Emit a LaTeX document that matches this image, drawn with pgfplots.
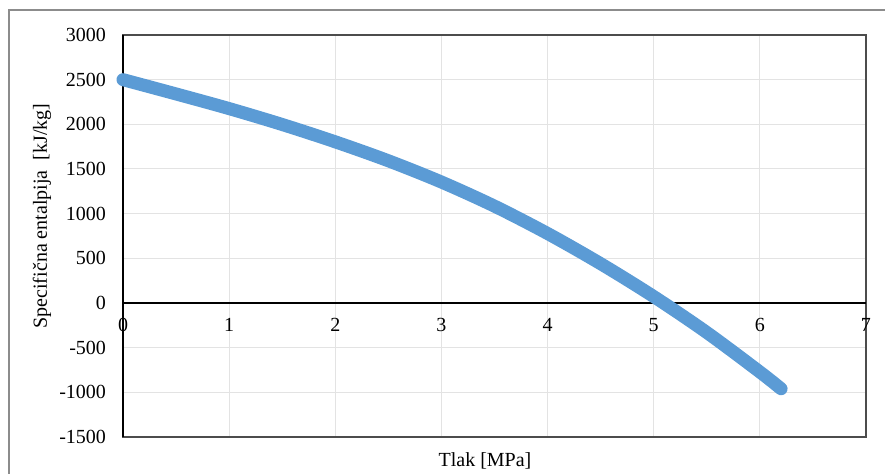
\documentclass[border=0pt]{standalone}
\usepackage{fontspec}
\setmainfont{Liberation Serif}
\usepackage{pgfplots}
\pgfplotsset{compat=1.18}
\definecolor{exblue}{HTML}{5B9BD5}
\definecolor{gridgray}{HTML}{E3E3E3}
\begin{document}
\begin{tikzpicture}[x=1pt,y=1pt]
\path[use as bounding box] (0,0) rectangle (442.5,237);
\draw[black!45,line width=0.6pt] (4.5,-2) -- (4.5,232) -- (445,232);
\begin{axis}[
  at={(61.5pt,18.5pt)}, anchor=south west,
  scale only axis, width=371.5pt, height=201pt,
  xmin=0, xmax=7, ymin=-1500, ymax=3000,
  xtick={0,1,...,7}, ytick={-1500,-1000,...,3000},
  major tick length=0pt,
  grid=major,
  major grid style={gridgray, line width=0.5pt},
  axis line style={black!70, line width=0.6pt},
  tick label style={font=\fontsize{10}{12}\selectfont},
  /pgf/number format/assume math mode=true,
  /pgf/number format/set thousands separator={},
  yticklabel style={xshift=-5pt},
  xticklabel style={yshift=63pt},
  clip=false,
]
\draw[black, line width=0.6pt] (axis cs:0,-1500) -- (axis cs:0,3000);
\draw[black, line width=0.6pt] (axis cs:0,0) -- (axis cs:7,0);
\addplot[exblue, line width=6.5pt, line cap=round, line join=round, smooth] coordinates {
(0,2500) (0.5,2340) (1,2176) (1.5,1998) (2,1804) (2.5,1592) (3,1354)
(3.5,1084) (4,778) (4.5,440) (5,72) (5.5,-330) (6,-772) (6.2,-960)
};
\end{axis}
\node[rotate=90, font=\fontsize{10}{12}\selectfont] at (21,129) {Specifična entalpija\ \ [kJ/kg]};
\node[font=\fontsize{10}{12}\selectfont] at (242.5,6.5) {Tlak [MPa]};
\end{tikzpicture}
\end{document}
